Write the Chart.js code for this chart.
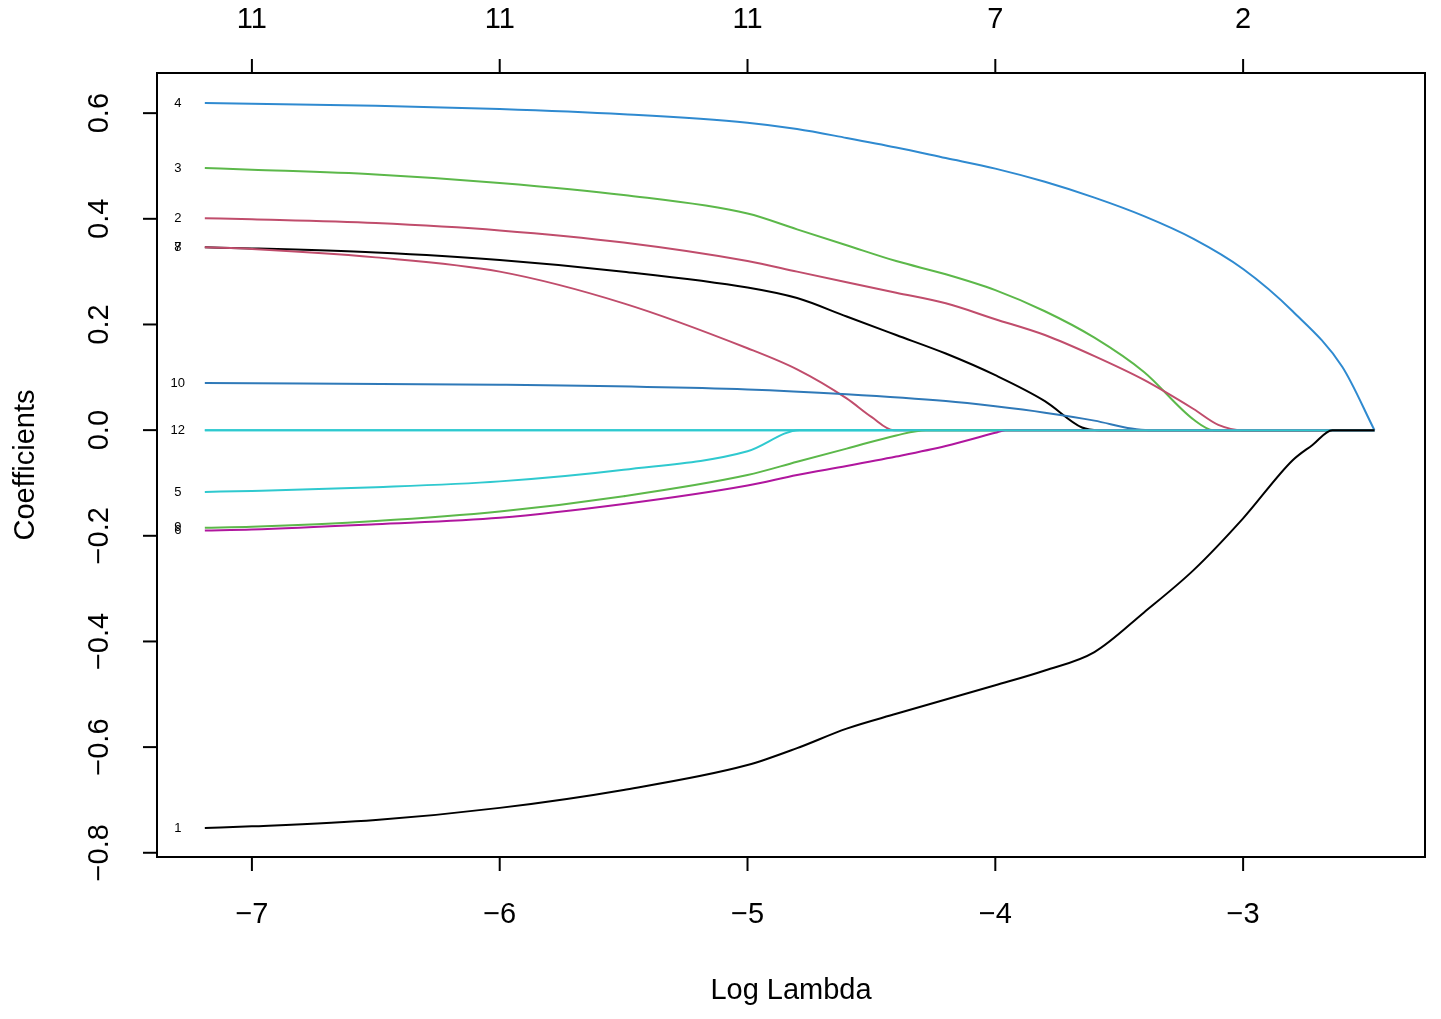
<!DOCTYPE html>
<html><head><meta charset="utf-8">
<script src="https://cdn.jsdelivr.net/npm/chart.js@4"></script>
<style>html,body{margin:0;padding:0;background:#fff}#w{width:1441px;height:1019px}</style>
</head><body><div id="w"><canvas id="c"></canvas></div>
<script>
const xTicks = [-7, -6, -5, -4, -3];
const topLabels = ['11', '11', '11', '7', '2'];
const yTicks = [0.6, 0.4, 0.2, 0.0, -0.2, -0.4, -0.6, -0.8];
const v4x = [-7.19,-7,-6.5,-6,-5.5,-5,-4.8,-4.6,-4.4,-4.2,-4,-3.8,-3.6,-3.4,-3.2,-3,-2.8,-2.6,-2.47];
const v4y = [0.619,0.618,0.614,0.608,0.598,0.582,0.570,0.553,0.535,0.515,0.495,0.470,0.440,0.405,0.362,0.305,0.225,0.120,0];
const v3x = [-7.19,-7,-6.5,-6,-5.5,-5,-4.8,-4.6,-4.4,-4.2,-4,-3.8,-3.6,-3.4,-3.2,-3.12,-2.47];
const v3y = [0.496,0.493,0.484,0.468,0.445,0.41,0.38,0.35,0.32,0.295,0.265,0.225,0.175,0.11,0.02,0,0];
const v2x = [-7.19,-7,-6.5,-6,-5.5,-5,-4.8,-4.6,-4.4,-4.2,-4,-3.8,-3.6,-3.4,-3.2,-3.1,-3.0,-2.47];
const v2y = [0.401,0.399,0.392,0.378,0.355,0.32,0.30,0.28,0.26,0.24,0.21,0.18,0.14,0.095,0.04,0.01,0,0];
const v7x = [-7.19,-7,-6.5,-6,-5.5,-5,-4.8,-4.6,-4.4,-4.2,-4,-3.8,-3.65,-3.58,-2.47];
const v7y = [0.346,0.344,0.336,0.322,0.30,0.27,0.25,0.215,0.18,0.145,0.104,0.055,0.005,0,0];
const v8x = [-7.19,-7,-6.5,-6,-5.5,-5,-4.8,-4.6,-4.5,-4.41,-2.47];
const v8y = [0.346,0.343,0.327,0.30,0.24,0.155,0.115,0.06,0.025,0,0];
const v10x = [-7.19,-6,-5,-4.6,-4.2,-4,-3.8,-3.6,-3.45,-3.38,-2.47];
const v10y = [0.089,0.086,0.077,0.068,0.055,0.045,0.033,0.018,0.003,0,0];
const v5x = [-7.19,-7,-6.5,-6,-5.5,-5,-4.79,-2.47];
const v5y = [-0.117,-0.115,-0.108,-0.097,-0.075,-0.04,0,0];
const v9x = [-7.19,-7,-6.5,-6,-5.5,-5,-4.8,-4.6,-4.4,-4.28,-2.47];
const v9y = [-0.185,-0.183,-0.172,-0.154,-0.125,-0.085,-0.06,-0.035,-0.01,0,0];
const v6x = [-7.19,-7,-6.5,-6,-5.5,-5,-4.8,-4.6,-4.4,-4.2,-4,-3.96,-2.47];
const v6y = [-0.19,-0.188,-0.178,-0.166,-0.14,-0.105,-0.085,-0.068,-0.05,-0.03,-0.005,0,0];
const v1x = [-7.19,-7,-6.5,-6,-5.5,-5,-4.8,-4.6,-4.4,-4.2,-4,-3.8,-3.6,-3.4,-3.2,-3,-2.8,-2.72,-2.64,-2.47];
const v1y = [-0.753,-0.750,-0.738,-0.715,-0.681,-0.634,-0.602,-0.565,-0.537,-0.51,-0.483,-0.455,-0.42,-0.345,-0.265,-0.167,-0.057,-0.028,0,0];
const v11x = [-7.19,-2.47], v11y = [0,0];
const v12x = [-7.19,-2.47], v12y = [0,0];

function pts(xs, ys){ return xs.map((x,i)=>({x, y: ys[i]})); }
const series = [
  {lab:'1', xs:v1x, ys:v1y, c:'#000000'},
  {lab:'11', xs:v11x, ys:v11y, c:'#2fc9cf', nolab:true},
  {lab:'6', xs:v6x, ys:v6y, c:'#b0169e'},
  {lab:'9', xs:v9x, ys:v9y, c:'#5cb84a'},
  {lab:'5', xs:v5x, ys:v5y, c:'#2fc9cf'},
  {lab:'10', xs:v10x, ys:v10y, c:'#2f79b8'},
  {lab:'8', xs:v8x, ys:v8y, c:'#c04d6c'},
  {lab:'7', xs:v7x, ys:v7y, c:'#000000'},
  {lab:'2', xs:v2x, ys:v2y, c:'#c04d6c'},
  {lab:'3', xs:v3x, ys:v3y, c:'#5cb84a'},
  {lab:'4', xs:v4x, ys:v4y, c:'#2f8ad0'},
  {lab:'12', xs:v12x, ys:v12y, c:'#2fd0d6'}
];
const datasets = series.map(s=>({label:s.lab, data:pts(s.xs,s.ys), borderColor:s.c, borderWidth:2, showLine:true, pointRadius:0, cubicInterpolationMode:'monotone'}));

const FONT = '"Liberation Sans", Arial, sans-serif';
const deco = {
  id:'deco',
  afterDraw(ch){
    const {ctx, chartArea:a, scales} = ch;
    const X = scales.x, Y = scales.y;
    ctx.save();
    ctx.strokeStyle='#000'; ctx.lineWidth=2;
    ctx.strokeRect(a.left, a.top, a.right-a.left, a.bottom-a.top);
    ctx.fillStyle='#000';
    ctx.font = '29px '+FONT;
    ctx.textAlign='center'; ctx.textBaseline='middle';
    xTicks.forEach((t,i)=>{
      const px = X.getPixelForValue(t);
      ctx.beginPath(); ctx.moveTo(px,a.bottom); ctx.lineTo(px,a.bottom+14); ctx.stroke();
      ctx.fillText('\u2212'+Math.abs(t), px, 915);
      ctx.beginPath(); ctx.moveTo(px,a.top); ctx.lineTo(px,a.top-14); ctx.stroke();
      ctx.fillText(topLabels[i], px, 20);
    });
    yTicks.forEach(t=>{
      const py = Y.getPixelForValue(t);
      ctx.beginPath(); ctx.moveTo(a.left,py); ctx.lineTo(a.left-14,py); ctx.stroke();
      ctx.save(); ctx.translate(100, py); ctx.rotate(-Math.PI/2);
      ctx.fillText((t<0?'\u2212':'')+Math.abs(t).toFixed(1), 0, 0);
      ctx.restore();
    });
    ctx.fillText('Log Lambda', (a.left+a.right)/2, 991);
    ctx.save(); ctx.translate(26, (a.top+a.bottom)/2); ctx.rotate(-Math.PI/2);
    ctx.fillText('Coefficients', 0, 0); ctx.restore();
    ctx.font = '13px '+FONT;
    series.forEach(s=>{
      if (s.nolab) return;
      ctx.fillText(s.lab, X.getPixelForValue(s.xs[0])-27, Y.getPixelForValue(s.ys[0]));
    });
    ctx.restore();
  }
};

new Chart(document.getElementById('c'), {
  type:'scatter',
  data:{datasets},
  options:{
    responsive:true, maintainAspectRatio:false, animation:false,
    layout:{padding:{left:0,right:16,top:0,bottom:0}},
    plugins:{legend:{display:false}, tooltip:{enabled:false}},
    scales:{
      x:{type:'linear', min:-7.383, max:-2.266, grid:{display:false}, border:{display:false},
         ticks:{display:false}, afterFit(s){s.height=162;}},
      x2:{type:'linear', position:'top', min:-7.383, max:-2.266, grid:{display:false}, border:{display:false},
         ticks:{display:false}, afterFit(s){s.height=73;}},
      y:{min:-0.808, max:0.676, grid:{display:false}, border:{display:false},
         ticks:{display:false}, afterFit(s){s.width=157;}}
    }
  },
  plugins:[deco]
});
</script></body></html>
